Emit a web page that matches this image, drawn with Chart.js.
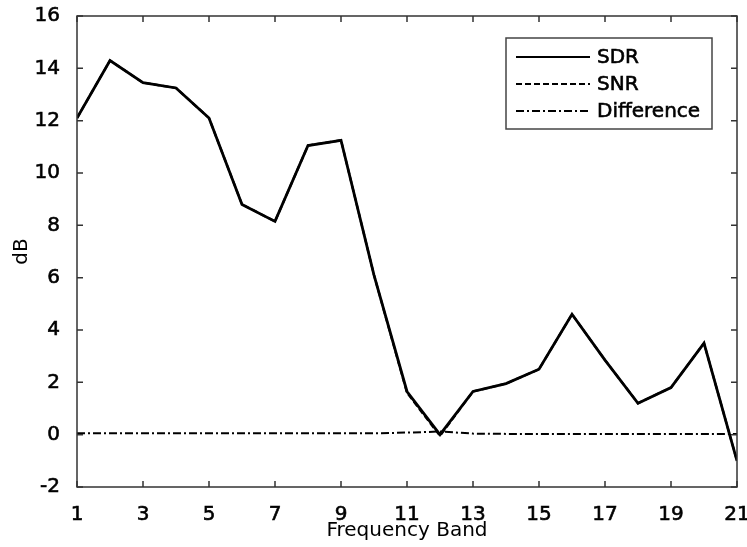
<!DOCTYPE html>
<html>
<head>
<meta charset="utf-8">
<script src="https://cdn.jsdelivr.net/npm/chart.js@4.4.1/dist/chart.umd.min.js"></script>
<style>
  body { margin: 0; background: #fff; }
</style>
</head>
<body>
<canvas id="myGraph" width="747" height="547"></canvas>
<script>
const graph = document.getElementById('myGraph');

// frequency bands
const bands = [1, 2, 3, 4, 5, 6, 7, 8, 9, 10, 11, 12, 13, 14, 15, 16, 17, 18, 19, 20, 21];

// values (dB)
const sdr = [12.1, 14.3, 13.45, 13.25, 12.1, 8.8, 8.15, 11.05, 11.25, 6.1, 1.65, 0.0, 1.65, 1.95, 2.5, 4.6, 2.85, 1.2, 1.8, 3.5, -1.0];
const snr = [12.1, 14.3, 13.45, 13.25, 12.1, 8.8, 8.15, 11.05, 11.25, 6.1, 1.6, -0.05, 1.65, 1.95, 2.5, 4.6, 2.85, 1.2, 1.8, 3.5, -1.0];
const diff = [0.05, 0.05, 0.05, 0.05, 0.05, 0.05, 0.05, 0.05, 0.05, 0.05, 0.08, 0.12, 0.04, 0.03, 0.03, 0.03, 0.03, 0.03, 0.03, 0.03, 0.03];

const FONT = 'DejaVu Sans';

const toXY = (vals) => vals.map((v, i) => ({ x: bands[i], y: v }));

// box, inward ticks, and legend inside the plot
const framePlugin = {
  id: 'frame',
  afterDraw(chart) {
    const ctx = chart.ctx;
    const a = chart.chartArea;
    const xs = chart.scales.x;
    const ys = chart.scales.y;
    const tl = 6;
    ctx.save();
    ctx.strokeStyle = '#333';
    ctx.lineWidth = 1.5;
    ctx.strokeRect(a.left, a.top, a.right - a.left, a.bottom - a.top);
    ctx.beginPath();
    xs.ticks.forEach(t => {
      const px = xs.getPixelForValue(t.value);
      ctx.moveTo(px, a.bottom); ctx.lineTo(px, a.bottom - tl);
      ctx.moveTo(px, a.top); ctx.lineTo(px, a.top + tl);
    });
    ys.ticks.forEach(t => {
      const py = ys.getPixelForValue(t.value);
      ctx.moveTo(a.left, py); ctx.lineTo(a.left + tl, py);
      ctx.moveTo(a.right, py); ctx.lineTo(a.right - tl, py);
    });
    ctx.stroke();

    // legend
    const bx = 506, by = 38, bw = 206, bh = 91;
    ctx.fillStyle = '#fff';
    ctx.fillRect(bx, by, bw, bh);
    ctx.strokeStyle = '#444';
    ctx.lineWidth = 1.5;
    ctx.strokeRect(bx, by, bw, bh);
    const rows = [57, 84, 111];
    chart.data.datasets.forEach((ds, i) => {
      const y = rows[i];
      ctx.beginPath();
      ctx.setLineDash(ds.borderDash || []);
      ctx.strokeStyle = '#000';
      ctx.lineWidth = 2.2;
      ctx.moveTo(516, y);
      ctx.lineTo(590, y);
      ctx.stroke();
      ctx.setLineDash([]);
      ctx.fillStyle = '#000';
      ctx.font = '20px "' + FONT + '"';
      ctx.textBaseline = 'middle';
      ctx.textAlign = 'left';
      ctx.lineWidth = 0.6;
      ctx.strokeText(ds.label, 597, y + 1);
      ctx.fillText(ds.label, 597, y + 1);
    });
    ctx.restore();
  }
};

new Chart(graph, {
  type: 'line',
  data: {
    datasets: [
      {
        label: 'SDR',
        data: toXY(sdr),
        borderColor: '#000',
        borderWidth: 2.8,
        pointRadius: 0,
        tension: 0
      },
      {
        label: 'SNR',
        data: toXY(snr),
        borderColor: '#000',
        borderWidth: 2.2,
        borderDash: [6, 3],
        pointRadius: 0,
        tension: 0
      },
      {
        label: 'Difference',
        data: toXY(diff),
        borderColor: '#000',
        borderWidth: 2,
        borderDash: [8, 3, 2, 3],
        pointRadius: 0,
        tension: 0
      }
    ]
  },
  options: {
    responsive: false,
    animation: false,
    devicePixelRatio: 1,
    layout: { padding: { top: 16, right: 10, left: 0, bottom: 0 } },
    plugins: {
      legend: { display: false },
      tooltip: { enabled: false }
    },
    scales: {
      x: {
        type: 'linear',
        min: 1,
        max: 21,
        grid: { display: false },
        border: { display: false },
        ticks: {
          stepSize: 2,
          padding: 8,
          color: '#000',
          textStrokeColor: '#000',
          textStrokeWidth: 0.6,
          maxRotation: 0,
          font: { family: FONT, size: 20 }
        },
        title: {
          display: true,
          text: 'Frequency Band',
          color: '#000',
          padding: { top: 0, bottom: 4 },
          font: { family: FONT, size: 20 }
        },
        afterFit(s) {
          s.height = 60;
          s.paddingLeft = 0;
          s.paddingRight = 0;
        }
      },
      y: {
        min: -2,
        max: 16,
        grid: { display: false },
        border: { display: false },
        ticks: {
          stepSize: 2,
          padding: 9,
          color: '#000',
          textStrokeColor: '#000',
          textStrokeWidth: 0.6,
          font: { family: FONT, size: 20 }
        },
        title: {
          display: true,
          text: 'dB',
          color: '#000',
          padding: { top: 10, bottom: 0 },
          font: { family: FONT, size: 20 }
        },
        afterFit(s) {
          s.width = 77;
          s.paddingTop = 0;
          s.paddingBottom = 0;
        }
      }
    }
  },
  plugins: [framePlugin]
});
</script>
</body>
</html>
